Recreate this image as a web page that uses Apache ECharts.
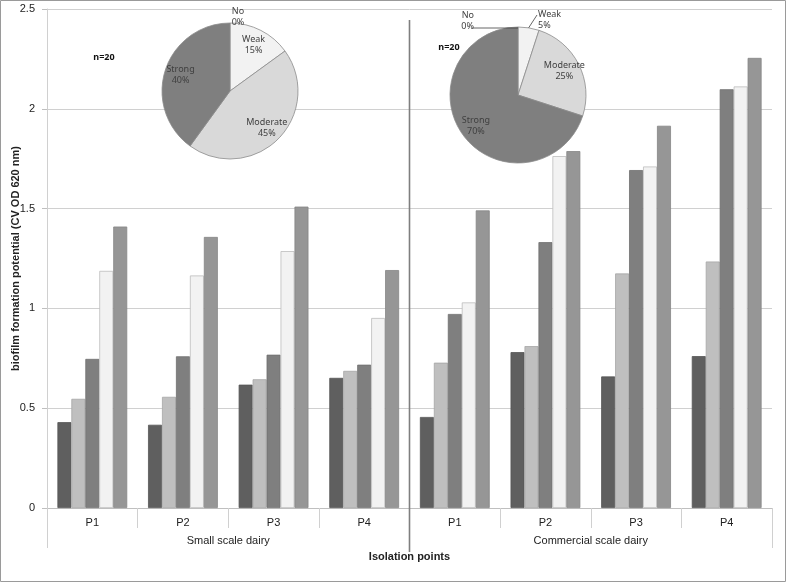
<!DOCTYPE html>
<html>
<head>
<meta charset="utf-8">
<script src="https://cdn.jsdelivr.net/npm/echarts@6/dist/echarts.min.js"></script>
<style>html,body{margin:0;padding:0;background:#fff}#c{width:787px;height:583px}</style>
</head>
<body>
<div id="c"></div>
<script>
// ---- data ----
const points = ['P1', 'P2', 'P3', 'P4', 'P1', 'P2', 'P3', 'P4'];
const dairyGroups = ['Small scale dairy', 'Commercial scale dairy'];
const seriesNames = ['Series 1', 'Series 2', 'Series 3', 'Series 4', 'Series 5'];
const s1 = [0.43, 0.417, 0.618, 0.652, 0.456, 0.781, 0.659, 0.761];
const s2 = [0.547, 0.557, 0.645, 0.687, 0.728, 0.811, 1.175, 1.235];
const s3 = [0.747, 0.760, 0.768, 0.718, 0.972, 1.332, 1.693, 2.098];
const s4 = [1.188, 1.165, 1.287, 0.952, 1.030, 1.763, 1.711, 2.112];
const s5 = [1.41, 1.358, 1.51, 1.192, 1.491, 1.788, 1.915, 2.255];
const barValues = [s1, s2, s3, s4, s5];
const pieCategories = ['No', 'Weak', 'Moderate', 'Strong'];
const smallCounts = [0, 3, 9, 8];        // n = 20
const commercialCounts = [0, 1, 5, 14];  // n = 20
const yTicks = [0, 0.5, 1, 1.5, 2, 2.5];

// ---- style ----
const barColors = ['#5f5f5f', '#bfbfbf', '#7f7f7f', '#f2f2f2', '#969696'];
const barBorders = ['#555555', '#a6a6a6', '#707070', '#bdbdbd', '#858585'];
const pieColors = ['#ffffff', '#f2f2f2', '#d9d9d9', '#7f7f7f'];
const txt = '#222';
const F = 'Liberation Sans, Arial, sans-serif';
const PF = 'Noto Sans, Open Sans, sans-serif';

const chart = echarts.init(document.getElementById('c'), null, {renderer: 'canvas'});

function pieData(counts) {
  return pieCategories.map((n, i) => ({name: n, value: counts[i], itemStyle: {color: pieColors[i]}}));
}
const pieLabelBase = {
  show: true, position: 'inside', formatter: '{b}\n{d}%',
  fontFamily: PF, fontSize: 9, color: '#404040', lineHeight: 11
};

const pie1 = {cx: 230, cy: 91, r: 68};
const pie2 = {cx: 518, cy: 95, r: 68};

const series = barValues.map((vals, i) => ({
  name: seriesNames[i], type: 'bar', data: vals,
  barGap: '0%', barCategoryGap: '23%',
  itemStyle: {color: barColors[i], borderColor: barBorders[i], borderWidth: 0.8},
  emphasis: {disabled: true}, silent: true
}));

// visible pies
[[pie1, smallCounts], [pie2, commercialCounts]].forEach(([p, counts]) => {
  series.push({
    type: 'pie', center: [p.cx, p.cy], radius: [0, p.r], startAngle: 90, clockwise: true,
    data: pieData(counts), label: {show: false}, labelLine: {show: false},
    itemStyle: {borderColor: '#8c8c8c', borderWidth: 0.8},
    emphasis: {disabled: true}, silent: true, z: 5
  });
});

// label overlays (transparent rings) so inside labels sit at ~0.72 r
series.push({
  type: 'pie', center: [pie1.cx, pie1.cy], radius: [30, pie1.r], startAngle: 90,
  data: pieData(smallCounts).map((d, i) => Object.assign(d, {
    itemStyle: {color: 'rgba(0,0,0,0)', borderWidth: 0},
    label: i === 0 ? {position: 'outside'} : {}
  })),
  label: pieLabelBase, labelLine: {show: false},
  labelLayout: function (params) {
    if (params.dataIndex === 0) {
      return {x: pie1.cx + 8, y: pie1.cy - pie1.r - 6, align: 'center', verticalAlign: 'middle'};
    }
  },
  emphasis: {disabled: true}, silent: true, z: 6
});
series.push({
  type: 'pie', center: [pie2.cx, pie2.cy], radius: [30, pie2.r], startAngle: 90,
  data: pieData(commercialCounts).map((d, i) => Object.assign(d, {
    itemStyle: {color: 'rgba(0,0,0,0)', borderWidth: 0},
    label: i <= 1 ? {position: 'outside'} : {},
    labelLine: i <= 1 ? {show: true, lineStyle: {color: '#404040', width: 0.8}} : {show: false}
  })),
  label: pieLabelBase, labelLine: {show: false, length: 8, length2: 8},
  labelLayout: function (params) {
    const top = [pie2.cx, pie2.cy - pie2.r + 1];
    if (params.dataIndex === 0) {
      return {x: pie2.cx - 44, y: pie2.cy - pie2.r - 6, align: 'right', verticalAlign: 'middle',
        labelLinePoints: [top, [pie2.cx - 46, top[1]], [pie2.cx - 46, top[1]]]};
    }
    if (params.dataIndex === 1) {
      const a = (commercialCounts[1] / 20) * Math.PI; // mid-angle of slice
      const s = [pie2.cx + pie2.r * Math.sin(a), pie2.cy - pie2.r * Math.cos(a)];
      return {x: pie2.cx + 20, y: pie2.cy - pie2.r - 7, align: 'left', verticalAlign: 'middle',
        labelLinePoints: [s, [pie2.cx + 19, pie2.cy - pie2.r - 12], [pie2.cx + 19, pie2.cy - pie2.r - 12]]};
    }
  },
  emphasis: {disabled: true}, silent: true, z: 6
});

const gridL = 47, gridR = 15, gridT = 9, gridB = 75;
const W = 787, H = 583;

chart.setOption({
  animation: false,
  backgroundColor: '#fff',
  grid: {left: gridL, right: gridR, top: gridT, bottom: gridB, containLabel: false, outerBoundsMode: 'none'},
  xAxis: [{
    type: 'category', data: points, position: 'bottom',
    axisLine: {show: true, lineStyle: {color: '#bfbfbf', width: 1}},
    axisTick: {show: true, alignWithLabel: false, length: 20, lineStyle: {color: '#d0d0d0'}},
    axisLabel: {color: txt, fontFamily: F, fontSize: 11, margin: 9},
    splitLine: {show: false}
  }, {
    type: 'category', data: dairyGroups, position: 'bottom', offset: 20,
    axisLine: {show: false},
    axisTick: {show: true, alignWithLabel: false, length: 20, lineStyle: {color: '#d0d0d0'}},
    axisLabel: {color: txt, fontFamily: F, fontSize: 11, margin: 7},
    name: 'Isolation points', nameLocation: 'middle', nameGap: 23, nameMoveOverlap: false,
    nameTextStyle: {color: txt, fontFamily: F, fontSize: 11, fontWeight: 'bold'}
  }],
  yAxis: {
    type: 'value', min: 0, max: 2.5, interval: 0.5,
    axisLine: {show: true, lineStyle: {color: '#d0d0d0'}},
    axisTick: {show: true, length: 5, lineStyle: {color: '#bfbfbf'}},
    axisLabel: {color: txt, fontFamily: F, fontSize: 11, margin: 12,
      formatter: v => (yTicks.indexOf(v) >= 0 ? String(v) : '')},
    splitLine: {show: true, lineStyle: {color: '#d0d0d0', width: 1}},
    name: 'biofilm formation potential (CV OD 620 nm)', nameLocation: 'middle', nameGap: 26,
    nameMoveOverlap: false,
    nameTextStyle: {color: txt, fontFamily: F, fontSize: 11, fontWeight: 'bold'}
  },
  series: series,
  graphic: [
    {type: 'rect', shape: {x: 0.5, y: 0.5, width: W - 2, height: H - 2},
      style: {fill: 'none', stroke: '#9a9a9a', lineWidth: 1}, silent: true, z: 100},
    {type: 'line', shape: {x1: gridL + (W - gridL - gridR) / 2, y1: 20, x2: gridL + (W - gridL - gridR) / 2, y2: 552},
      style: {stroke: '#7f7f7f', lineWidth: 1.6}, silent: true, z: 50},
    {type: 'text', x: 104, y: 57, style: {text: 'n=20', fill: '#111', font: 'bold 9px Noto Sans', align: 'center', verticalAlign: 'middle'}, z: 60},
    {type: 'text', x: 449, y: 47, style: {text: 'n=20', fill: '#111', font: 'bold 9px Noto Sans', align: 'center', verticalAlign: 'middle'}, z: 60}
  ]
});
</script>
</body>
</html>
